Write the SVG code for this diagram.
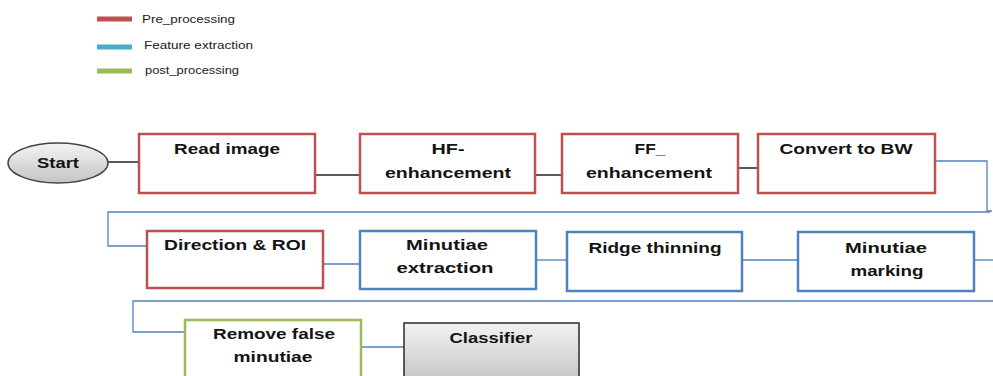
<svg xmlns="http://www.w3.org/2000/svg" width="993" height="376" viewBox="0 0 993 376">
<defs>
<linearGradient id="gGray" x1="0" y1="0" x2="0" y2="1">
<stop offset="0" stop-color="#f2f2f2"/>
<stop offset="1" stop-color="#bdbdbd"/>
</linearGradient>
<linearGradient id="gEll" x1="0" y1="0" x2="0" y2="1">
<stop offset="0" stop-color="#f4f4f4"/>
<stop offset="1" stop-color="#c4c4c4"/>
</linearGradient>
</defs>
<style>
.t{font-family:"Liberation Sans",Arial,sans-serif;font-weight:bold;font-size:15px;fill:#141414;text-anchor:middle}
.lg{font-family:"Liberation Sans",Arial,sans-serif;font-size:10px;fill:#1a1a2a}
.red{fill:#fff;stroke:#c0504d;stroke-width:2.5}
.blue{fill:#fff;stroke:#4f81bd;stroke-width:2.5}
.green{fill:#fff;stroke:#9bbb59;stroke-width:2.5}
.gray{fill:url(#gGray);stroke:#2a2a2a;stroke-width:1.5}
.kc{fill:none;stroke:#222;stroke-width:1.5}
.bc{fill:none;stroke:#4f81bd;stroke-width:1.3}
</style>
<g id="legend">
<line x1="97" y1="19" x2="132" y2="19" stroke="#c0504d" stroke-width="5"/>
<text class="lg" x="142" y="23" textLength="93" lengthAdjust="spacingAndGlyphs">Pre_processing</text>
<line x1="97" y1="47" x2="132" y2="47" stroke="#4bacc6" stroke-width="5"/>
<text class="lg" x="144" y="49" textLength="109" lengthAdjust="spacingAndGlyphs">Feature extraction</text>
<line x1="97" y1="71" x2="132" y2="71" stroke="#9bbb59" stroke-width="5"/>
<text class="lg" x="145" y="74" textLength="94" lengthAdjust="spacingAndGlyphs">post_processing</text>
</g>
<g id="connectors">
<line class="kc" x1="108" y1="162" x2="139" y2="162"/>
<line class="kc" x1="315" y1="175" x2="360" y2="175"/>
<line class="kc" x1="535" y1="175" x2="562" y2="175"/>
<line class="kc" x1="738" y1="168" x2="758" y2="168"/>
<path class="bc" d="M935,161 H987 V211 H992"/>
<path class="bc" d="M990,212 H108 V246 H147"/>
<line class="bc" x1="323" y1="264" x2="360" y2="264"/>
<line class="bc" x1="536" y1="260" x2="567" y2="260"/>
<line class="bc" x1="742" y1="260" x2="798" y2="260"/>
<line class="bc" x1="974" y1="260" x2="993" y2="260"/>
<path class="bc" d="M993,301 H133 V332 H185"/>
<line class="bc" x1="361" y1="347" x2="404" y2="347"/>
</g>
<g id="start">
<ellipse cx="58" cy="163" rx="50" ry="20" fill="url(#gEll)" stroke="#444" stroke-width="1.5"/>
<text class="t" x="58" y="168" textLength="42" lengthAdjust="spacingAndGlyphs">Start</text>
</g>
<g id="read-image">
<rect class="red" x="139" y="134" width="176" height="59"/>
<text class="t" x="227" y="154" textLength="106" lengthAdjust="spacingAndGlyphs">Read image</text>
</g>
<g id="hf-enhancement">
<rect class="red" x="360" y="134" width="175" height="59"/>
<text class="t" x="448" y="154" textLength="33" lengthAdjust="spacingAndGlyphs">HF-</text>
<text class="t" x="448" y="178" textLength="126" lengthAdjust="spacingAndGlyphs">enhancement</text>
</g>
<g id="ff-enhancement">
<rect class="red" x="562" y="134" width="176" height="59"/>
<text class="t" x="650" y="154" textLength="31" lengthAdjust="spacingAndGlyphs">FF_</text>
<text class="t" x="649" y="178" textLength="126" lengthAdjust="spacingAndGlyphs">enhancement</text>
</g>
<g id="convert-bw">
<rect class="red" x="758" y="134" width="177" height="59"/>
<text class="t" x="846" y="154" textLength="133" lengthAdjust="spacingAndGlyphs">Convert to BW</text>
</g>
<g id="direction-roi">
<rect class="red" x="147" y="231" width="176" height="57"/>
<text class="t" x="235" y="250" textLength="142" lengthAdjust="spacingAndGlyphs">Direction &amp; ROI</text>
</g>
<g id="minutiae-extraction">
<rect class="blue" x="360" y="231" width="176" height="58"/>
<text class="t" x="447" y="250" textLength="82" lengthAdjust="spacingAndGlyphs">Minutiae</text>
<text class="t" x="445" y="273" textLength="97" lengthAdjust="spacingAndGlyphs">extraction</text>
</g>
<g id="ridge-thinning">
<rect class="blue" x="567" y="232" width="175" height="59"/>
<text class="t" x="655" y="253" textLength="133" lengthAdjust="spacingAndGlyphs">Ridge thinning</text>
</g>
<g id="minutiae-marking">
<rect class="blue" x="798" y="232" width="176" height="59"/>
<text class="t" x="886" y="253" textLength="82" lengthAdjust="spacingAndGlyphs">Minutiae</text>
<text class="t" x="887" y="276" textLength="73" lengthAdjust="spacingAndGlyphs">marking</text>
</g>
<g id="remove-false-minutiae">
<rect class="green" x="185" y="320" width="176" height="70"/>
<text class="t" x="274" y="339" textLength="122" lengthAdjust="spacingAndGlyphs">Remove false</text>
<text class="t" x="273" y="362" textLength="79" lengthAdjust="spacingAndGlyphs">minutiae</text>
</g>
<g id="classifier">
<rect class="gray" x="404" y="323" width="175" height="70"/>
<text class="t" x="491" y="343" textLength="83" lengthAdjust="spacingAndGlyphs">Classifier</text>
</g>
</svg>
